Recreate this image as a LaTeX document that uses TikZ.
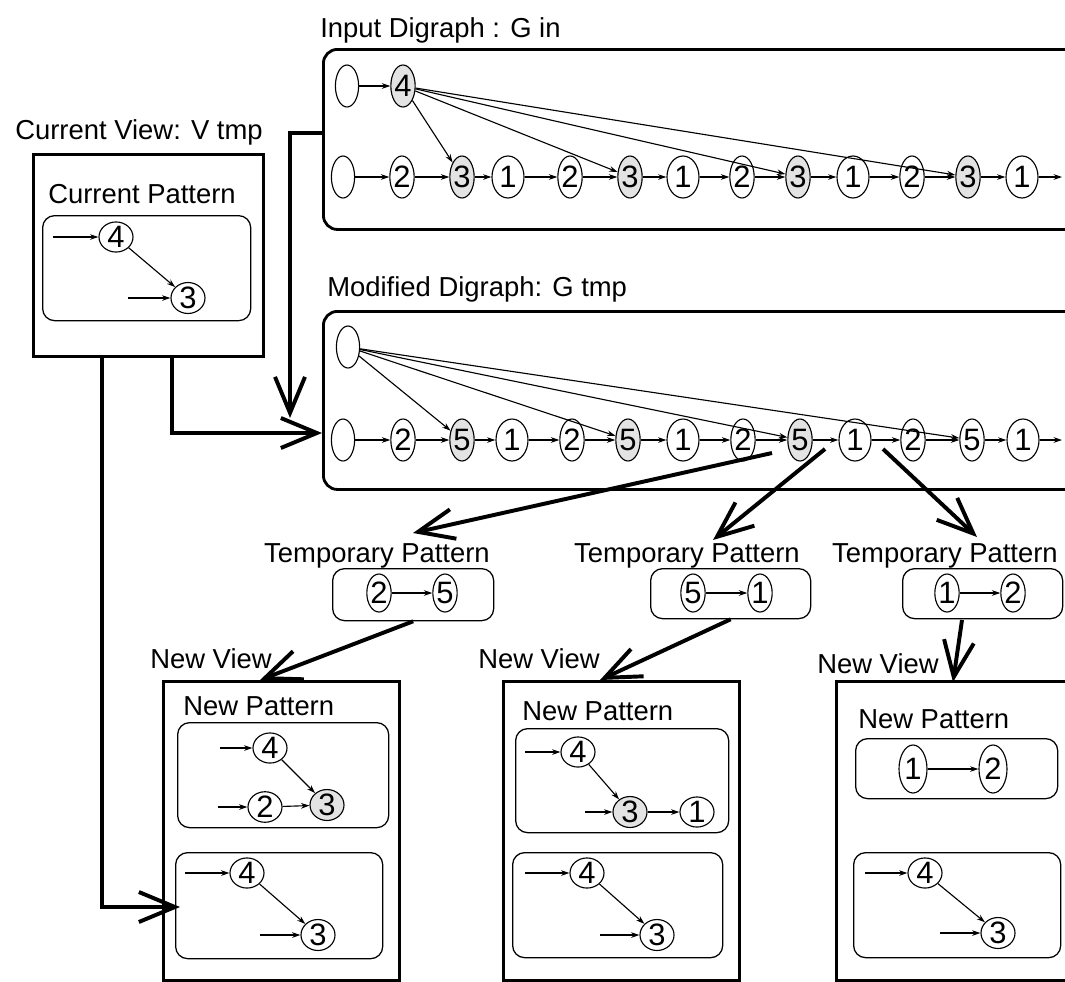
\documentclass[tikz,border=0pt]{standalone}
\usepackage{fontspec}
\setmainfont{Liberation Sans}
\usetikzlibrary{shapes.geometric,arrows.meta,positioning,calc}

\tikzset{
  lbl/.style={font=\fontsize{19.5}{22}\selectfont, inner sep=0pt, anchor=base west},
  dig/.style={ellipse, draw, line width=0.8pt, inner sep=0pt, font=\fontsize{22}{22}\selectfont},
  seq/.style={dig, minimum width=0.6cm, minimum height=1.05cm},
  one/.style={seq, minimum width=0.8cm},
  hit/.style={seq, fill=gray!22},
  blank/.style={seq, minimum width=0.58cm},
  pat/.style={dig, minimum width=0.85cm, minimum height=0.62cm},
  patx/.style={pat, fill=gray!22},
  tall/.style={dig, minimum width=0.6cm, minimum height=0.95cm},
  gbox/.style={draw, line width=2pt, rounded corners=0.35cm, anchor=north west},
  vbox/.style={draw, line width=2pt, anchor=north west},
  pbox/.style={draw, line width=0.9pt, rounded corners=0.3cm, anchor=north west},
  sarr/.style={line width=0.8pt, -{Stealth[length=6pt,width=4pt]}},
  big/.style={line width=2.8pt, -{Straight Barb[length=0.9cm,width=0.75cm]}},
}

\begin{document}
\begin{tikzpicture}[x=0.025cm, y=-0.025cm]
  \path[fill=white, use as bounding box] (0,0) rectangle (1065,981);
  \clip (0,0) rectangle (1065,981);

  % input digraph
  \node[lbl] (tIn) at (320,37) {Input Digraph : G in};
  \node[gbox, minimum width=19.45cm, minimum height=4.5cm] (gin) at (322,48) {};
  \node[blank] (a0) at (347,86) {};
  \node[hit] (a4) at (403,86) {4};
  \draw[sarr] (a0) -- (a4);
  \foreach \i/\x/\t/\s in {0/343//blank, 1/402/2/seq, 2/462/3/hit, 3/508/1/one,
      4/570/2/seq, 5/630/3/hit, 6/683/1/one, 7/742/2/seq, 8/798/3/hit,
      9/853/1/one, 10/912/2/seq, 11/968/3/hit, 12/1022/1/one}
    \node[\s] (in\i) at (\x,177) {\t};
  \coordinate (inEnd) at (1062,177);
  \foreach \i [evaluate=\i as \j using int(\i+1)] in {0,...,11}
    \draw[sarr] (in\i) -- (in\j);
  \draw[sarr] (in12) -- (inEnd);
  \foreach \k in {2,5,8,11}
    \draw[sarr] (a4) -- (in\k);

  % modified digraph
  \node[lbl] (tMod) at (327,296) {Modified Digraph: G tmp};
  \node[gbox, minimum width=19.45cm, minimum height=4.45cm] (gmod) at (322,310) {};
  \node[blank] (b0) at (348,347) {};
  \foreach \i/\x/\t/\s in {0/343//blank, 1/403/2/seq, 2/462/5/hit, 3/512/1/one,
      4/572/2/seq, 5/628/5/hit, 6/683/1/one, 7/743/2/seq, 8/800/5/hit,
      9/855/1/one, 10/913/2/seq, 11/972/5/seq, 12/1023/1/one}
    \node[\s] (md\i) at (\x,440) {\t};
  \coordinate (mdEnd) at (1062,440);
  \foreach \i [evaluate=\i as \j using int(\i+1)] in {0,...,11}
    \draw[sarr] (md\i) -- (md\j);
  \draw[sarr] (md12) -- (mdEnd);
  \foreach \k in {2,5,8,11}
    \draw[sarr] (b0) -- (md\k);

  % current view
  \node[lbl] (tCV) at (15,139) {Current View: V tmp};
  \node[vbox, minimum width=5.75cm, minimum height=5.05cm] (cv) at (32,153) {};
  \node[lbl] (tCP) at (48,203) {Current Pattern};
  \node[pbox, minimum width=5.2cm, minimum height=2.625cm] (cp) at (42,215) {};
  \node[pat] (cp4) at (116,237) {4};
  \node[pat] (cp3) at (188,298) {3};
  \coordinate (cp4in) at (53,237);
  \coordinate (cp3in) at (128,298);
  \draw[sarr] (cp4in) -- (cp4);
  \draw[sarr] (cp3in) -- (cp3);
  \draw[sarr] (cp4) -- (cp3);

  % temporary patterns
  \node[lbl, anchor=base] (tTP1) at (377,562) {Temporary Pattern};
  \node[pbox, minimum width=4.025cm, minimum height=1.3cm] (tp1) at (332,568) {};
  \node[tall] (tp1a) at (379,593) {2};
  \node[tall] (tp1b) at (445,593) {5};
  \draw[sarr] (tp1a) -- (tp1b);

  \node[lbl, anchor=base] (tTP2) at (687,562) {Temporary Pattern};
  \node[pbox, minimum width=4cm, minimum height=1.25cm] (tp2) at (650,568) {};
  \node[tall] (tp2a) at (693,593) {5};
  \node[tall] (tp2b) at (760,593) {1};
  \draw[sarr] (tp2a) -- (tp2b);

  \node[lbl, anchor=base] (tTP3) at (945,562) {Temporary Pattern};
  \node[pbox, minimum width=4cm, minimum height=1.25cm] (tp3) at (902,568) {};
  \node[tall] (tp3a) at (947,593) {1};
  \node[tall] (tp3b) at (1013,593) {2};
  \draw[sarr] (tp3a) -- (tp3b);

  % new views
  \node[lbl] (tNV1) at (150,668) {New View};
  \node[vbox, minimum width=5.9cm, minimum height=7.475cm] (nv1) at (162,680) {};
  \node[lbl] (tNP1) at (183,715) {New Pattern};
  \node[pbox, minimum width=5.275cm, minimum height=2.625cm] (np1) at (177,722) {};
  \node[pat] (n1a) at (270,748) {4};
  \node[pat] (n1b) at (265,807) {2};
  \node[patx] (n1c) at (327,805) {3};
  \coordinate (n1ain) at (220,748);
  \coordinate (n1bin) at (218,807);
  \draw[sarr] (n1ain) -- (n1a);
  \draw[sarr] (n1bin) -- (n1b);
  \draw[sarr] (n1a) -- (n1c);
  \draw[sarr] (n1b) -- (n1c);
  \node[pbox, minimum width=5.175cm, minimum height=2.65cm] (op1) at (175,852) {};
  \node[pat] (n1d) at (247,873) {4};
  \node[pat] (n1e) at (318,935) {3};
  \coordinate (n1din) at (185,873);
  \coordinate (n1ein) at (260,935);
  \draw[sarr] (n1din) -- (n1d);
  \draw[sarr] (n1ein) -- (n1e);
  \draw[sarr] (n1d) -- (n1e);

  \node[lbl] (tNV2) at (478,668) {New View};
  \node[vbox, minimum width=5.9cm, minimum height=7.475cm] (nv2) at (502,680) {};
  \node[lbl] (tNP2) at (522,720) {New Pattern};
  \node[pbox, minimum width=5.325cm, minimum height=2.6cm] (np2) at (515,728) {};
  \node[pat] (n2a) at (578,752) {4};
  \node[patx] (n2b) at (630,812) {3};
  \node[pat] (n2c) at (697,812) {1};
  \coordinate (n2ain) at (525,752);
  \coordinate (n2bin) at (585,812);
  \draw[sarr] (n2ain) -- (n2a);
  \draw[sarr] (n2bin) -- (n2b);
  \draw[sarr] (n2a) -- (n2b);
  \draw[sarr] (n2b) -- (n2c);
  \node[pbox, minimum width=5.25cm, minimum height=2.625cm] (op2) at (512,852) {};
  \node[pat] (n2d) at (587,873) {4};
  \node[pat] (n2e) at (657,935) {3};
  \coordinate (n2din) at (525,873);
  \coordinate (n2ein) at (600,935);
  \draw[sarr] (n2din) -- (n2d);
  \draw[sarr] (n2ein) -- (n2e);
  \draw[sarr] (n2d) -- (n2e);

  \node[lbl] (tNV3) at (817,673) {New View};
  \node[vbox, minimum width=6.625cm, minimum height=7.475cm] (nv3) at (835,680) {};
  \node[lbl] (tNP3) at (858,728) {New Pattern};
  \node[pbox, minimum width=5.05cm, minimum height=1.5cm] (np3) at (855,738) {};
  \node[tall, minimum width=0.7cm, minimum height=1.2cm] (n3a) at (913,769) {1};
  \node[tall, minimum width=0.7cm, minimum height=1.2cm] (n3b) at (993,769) {2};
  \draw[sarr] (n3a) -- (n3b);
  \node[pbox, minimum width=5.175cm, minimum height=2.625cm] (op3) at (853,852) {};
  \node[pat] (n3c) at (925,873) {4};
  \node[pat] (n3d) at (998,933) {3};
  \coordinate (n3cin) at (865,873);
  \coordinate (n3din) at (940,933);
  \draw[sarr] (n3cin) -- (n3c);
  \draw[sarr] (n3din) -- (n3d);
  \draw[sarr] (n3c) -- (n3d);

  % thick connectors
  \coordinate (ginOut) at (322,133);
  \coordinate (gmodIn) at (290,418);
  \draw[big] (ginOut) -| (gmodIn);
  \coordinate (cvOutA) at ($(cv.south west)!0.3!(cv.south east)$);
  \coordinate (cvOutB) at ($(cv.south west)!0.6!(cv.south east)$);
  \coordinate (nv1In) at (180,907);
  \coordinate (mdIn) at (322,433);
  \draw[big] (cvOutA) |- (nv1In);
  \draw[big] (cvOutB) |- (mdIn);

  \coordinate (s1) at (772,453);
  \coordinate (s2) at (825,449);
  \coordinate (s3) at (883,449);
  \coordinate (t1) at (413,533);
  \coordinate (t2) at (713,540);
  \coordinate (t3) at (977,537);
  \draw[big] (s1) -- (t1);
  \draw[big] (s2) -- (t2);
  \draw[big] (s3) -- (t3);

  \coordinate (u3) at (962,620);
  \coordinate (v1) at (260,680);
  \coordinate (v2) at (600,680);
  \coordinate (v3) at (953,682);
  \draw[big] (tp1.south) -- (v1);
  \draw[big] (tp2.south) -- (v2);
  \draw[big] (u3) -- (v3);
\end{tikzpicture}
\end{document}
